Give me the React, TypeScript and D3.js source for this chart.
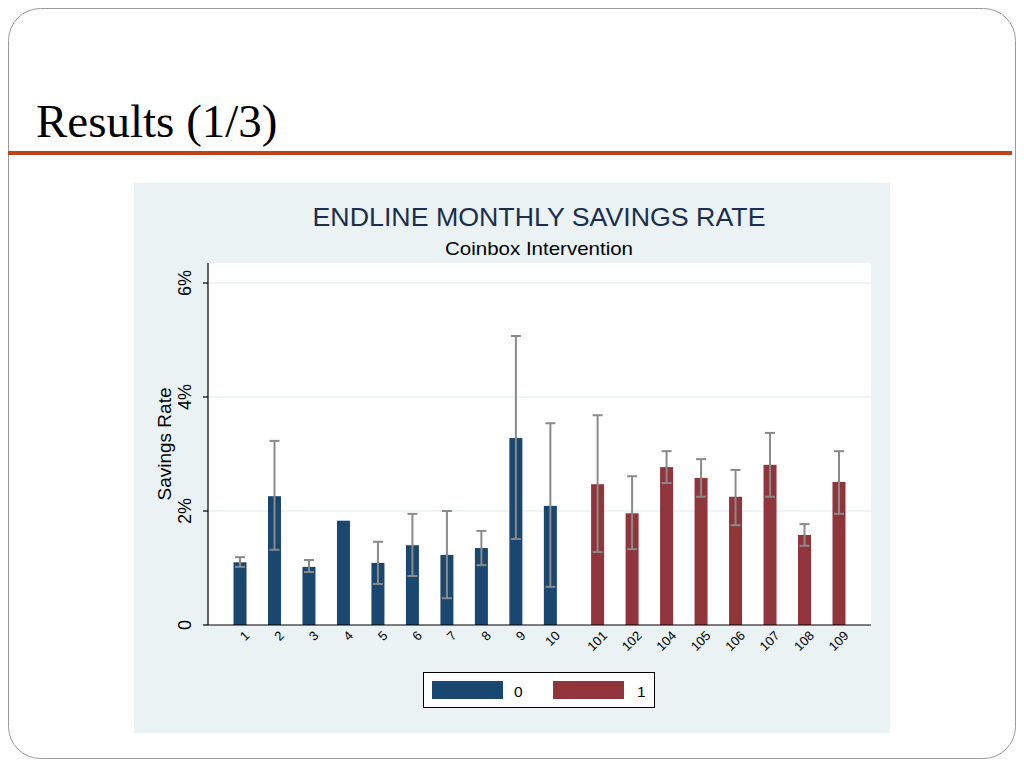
import React from 'react';
import * as d3 from 'd3';

// bar categories, grouped by treatment (0 = control, 1 = coinbox)
const categories0 = ['1', '2', '3', '4', '5', '6', '7', '8', '9', '10'];
const categories1 = ['101', '102', '104', '105', '106', '107', '108', '109'];

// mean savings rate (%) and the ends of the error bars
const means0 = [1.10, 2.26, 1.02, 1.83, 1.09, 1.40, 1.23, 1.35, 3.28, 2.09];
const hi0 = [1.19, 3.23, 1.14, null, 1.46, 1.95, 2.0, 1.65, 5.07, 3.54];
const lo0 = [1.02, 1.32, 0.93, null, 0.72, 0.86, 0.47, 1.05, 1.51, 0.67];

const means1 = [2.47, 1.96, 2.77, 2.58, 2.25, 2.81, 1.58, 2.51];
const hi1 = [3.68, 2.61, 3.05, 2.91, 2.72, 3.37, 1.77, 3.05];
const lo1 = [1.28, 1.33, 2.49, 2.25, 1.75, 2.25, 1.39, 1.95];

const yTicks = [0, 2, 4, 6];
const legendLabels = ['0', '1'];
const groupColors = ['#1a476f', '#90353b'];

const GROUP_GAP = 0.37;
const SANS = 'Liberation Sans, Arial, sans-serif';

export default function App() {
  const plot = { left: 208, right: 871, top: 263, bottom: 625 };

  const y = d3.scaleLinear().domain([0, 6]).range([625, 283]);
  const x = d3.scaleLinear()
    .domain([0, categories0.length + categories1.length - 1 + GROUP_GAP])
    .range([240, 839]);

  const bars = [
    ...categories0.map((c, i) => ({ label: c, idx: i, v: means0[i], hi: hi0[i], lo: lo0[i], g: 0 })),
    ...categories1.map((c, i) => ({
      label: c, idx: categories0.length + i + GROUP_GAP, v: means1[i], hi: hi1[i], lo: lo1[i], g: 1,
    })),
  ];
  const barW = 13;

  return (
    <div style={{ position: 'absolute', left: 0, top: 0 }}>
      <svg width={1024} height={768} style={{ display: 'block', background: '#fff' }}>
        <rect x={8.5} y={8.5} width={1007} height={750} rx={32} fill="#fff" stroke="#9a9a9a" strokeWidth={1} />
        <text x={36} y={137} fontFamily="Liberation Serif, Times New Roman, serif" fontSize={47} fill="#000">
          Results (1/3)
        </text>
        <rect x={8} y={151} width={1004} height={4} fill="#bf4318" />

        {/* graph region */}
        <rect x={134} y={183} width={756} height={550} fill="#eaf2f3" />
        <text x={539} y={226} textAnchor="middle" fontFamily={SANS} fontSize={25} fill="#1c2e4e"
          textLength={453} lengthAdjust="spacingAndGlyphs">
          ENDLINE MONTHLY SAVINGS RATE
        </text>
        <text x={539} y={255} textAnchor="middle" fontFamily={SANS} fontSize={18.5} fill="#000"
          textLength={188} lengthAdjust="spacingAndGlyphs">
          Coinbox Intervention
        </text>

        <rect x={plot.left} y={plot.top} width={plot.right - plot.left} height={plot.bottom - plot.top} fill="#fff" />
        {yTicks.filter(t => t > 0).map(t => (
          <line key={t} x1={plot.left} x2={plot.right} y1={y(t)} y2={y(t)} stroke="#eaf2f3" strokeWidth={1.5} />
        ))}

        {bars.map(b => (
          <rect key={b.label} x={x(b.idx) - barW / 2} y={y(b.v)} width={barW} height={y(0) - y(b.v)} fill={groupColors[b.g]} />
        ))}
        {bars.filter(b => b.hi != null).map(b => (
          <g key={'e' + b.label} stroke="#8a8a8a" strokeWidth={2}>
            <line x1={x(b.idx)} x2={x(b.idx)} y1={y(b.hi as number)} y2={y(b.lo as number)} />
            <line x1={x(b.idx) - 5} x2={x(b.idx) + 5} y1={y(b.hi as number)} y2={y(b.hi as number)} />
            <line x1={x(b.idx) - 5} x2={x(b.idx) + 5} y1={y(b.lo as number)} y2={y(b.lo as number)} />
          </g>
        ))}

        {/* axes */}
        <line x1={plot.left} x2={plot.left} y1={plot.top} y2={plot.bottom} stroke="#000" strokeWidth={1.2} />
        <line x1={plot.left} x2={plot.right} y1={plot.bottom} y2={plot.bottom} stroke="#000" strokeWidth={1.2} />
        {yTicks.map(t => (
          <g key={'t' + t}>
            <line x1={plot.left - 5} x2={plot.left} y1={y(t)} y2={y(t)} stroke="#000" strokeWidth={1.2} />
            <text
              transform={`translate(191,${y(t)}) rotate(-90)`}
              textAnchor="middle"
              fontFamily={SANS}
              fontSize={18}
              fill="#000"
            >
              {t === 0 ? '0' : `${t}%`}
            </text>
          </g>
        ))}
        <text
          transform={`translate(171,444) rotate(-90)`}
          textAnchor="middle"
          fontFamily={SANS}
          fontSize={19}
          fill="#000"
        >
          Savings Rate
        </text>
        {bars.map(b => (
          <text
            key={'l' + b.label}
            transform={`translate(${x(b.idx) + 8},${plot.bottom + 9}) rotate(-45)`}
            textAnchor="end"
            dominantBaseline="middle"
            fontFamily={SANS}
            fontSize={13}
            fill="#000"
          >
            {b.label}
          </text>
        ))}

        {/* legend */}
        <rect x={423.5} y={672.5} width={231} height={35} fill="#fff" stroke="#000" strokeWidth={1} />
        {legendLabels.map((l, i) => (
          <g key={'lg' + l}>
            <rect x={432 + i * 121} y={681} width={71} height={18} fill={groupColors[i]} />
            <text x={514 + i * 123} y={697} fontFamily={SANS} fontSize={15.5} fill="#000">
              {l}
            </text>
          </g>
        ))}
      </svg>
    </div>
  );
}
